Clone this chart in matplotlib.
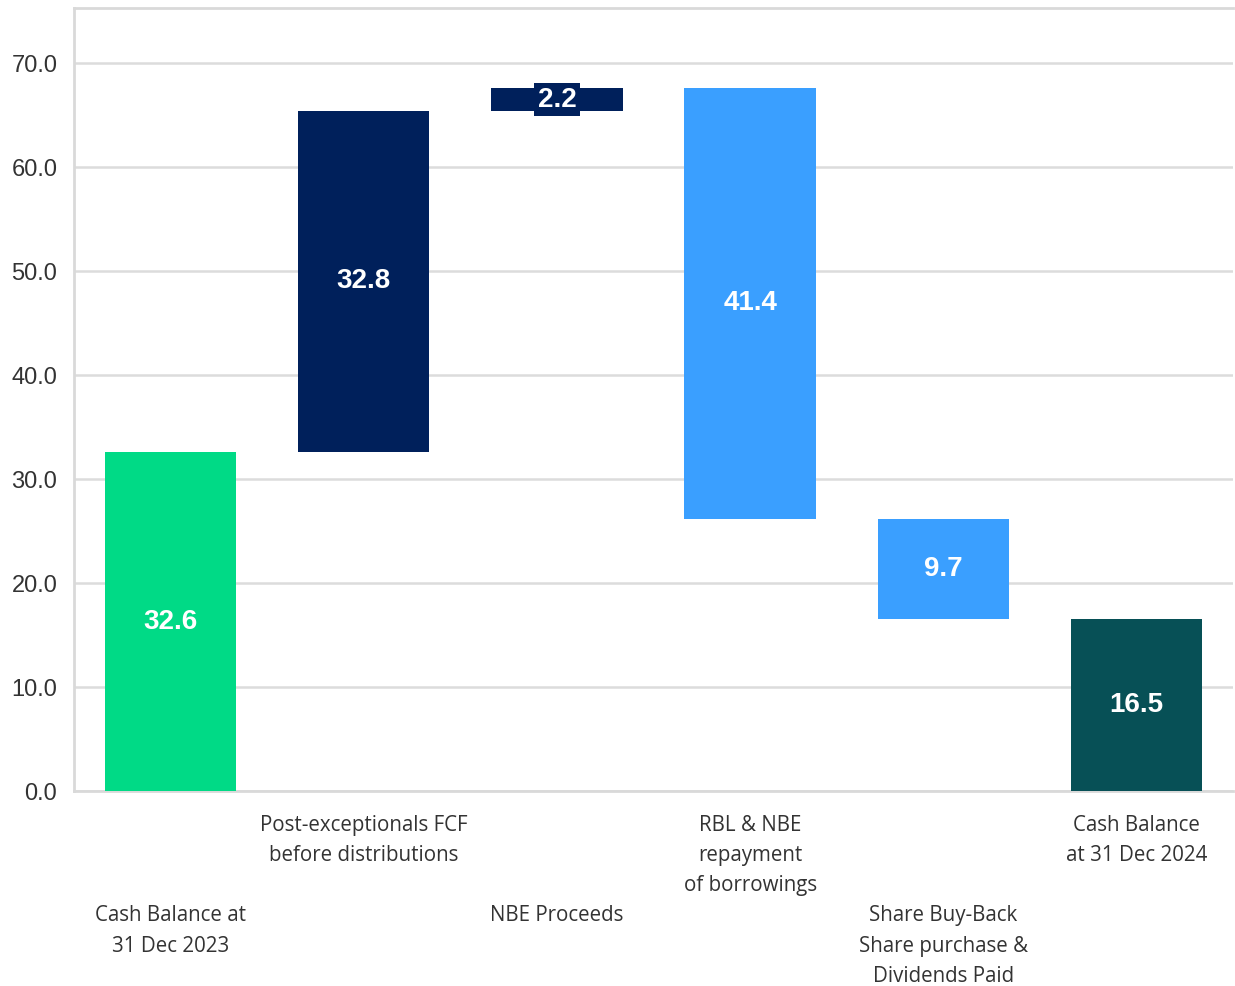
import matplotlib
matplotlib.use("Agg")
import matplotlib.pyplot as plt
import numpy as np

categories = [
    "Cash Balance at\n31 Dec 2023",
    "Post-exceptionals FCF\nbefore distributions",
    "NBE Proceeds",
    "RBL & NBE\nrepayment\nof borrowings",
    "Share Buy-Back\nShare purchase &\nDividends Paid",
    "Cash Balance\nat 31 Dec 2024",
]
changes = [32.6, 32.8, 2.2, -41.4, -9.7, 16.5]
kinds = ["total", "delta", "delta", "delta", "delta", "total"]
label_row = [2, 1, 2, 1, 2, 1]
yticks = [0, 10, 20, 30, 40, 50, 60, 70]

colors = ["#00DA86", "#00205B", "#00205B", "#3A9FFF", "#3A9FFF", "#075056"]

fig = plt.figure(figsize=(12.35, 9.86), dpi=100)
ax = fig.add_axes([74/1235, 1-791/986, (1233-74)/1235, (791-8)/986])

bottoms, heights = [], []
running = 0.0
for v, k in zip(changes, kinds):
    if k == "total":
        bottoms.append(0.0)
        heights.append(v)
        running = v
    else:
        if v >= 0:
            bottoms.append(running)
        else:
            bottoms.append(running + v)
        heights.append(abs(v))
        running += v

x = np.arange(len(categories))
ax.bar(x, heights, bottom=bottoms, width=0.68, color=colors, zorder=3)

for i, (b, h, v) in enumerate(zip(bottoms, heights, changes)):
    txt = f"{abs(v):.1f}"
    kw = {}
    if h < 4:
        kw["bbox"] = dict(boxstyle="square,pad=0.12", facecolor=colors[i], edgecolor="none")
    ax.text(i, b + h / 2, txt, ha="center", va="center", color="white",
            fontsize=20, fontweight="bold", family=["Liberation Sans", "DejaVu Sans"],
            zorder=4, **kw)

ax.set_xlim(-0.5, len(categories) - 0.5)
ax.set_ylim(0, 75.3)
ax.set_yticks(yticks)
ax.set_yticklabels([f"{t:.1f}" for t in yticks], fontsize=17, color="#333333",
                   family=["Liberation Sans", "DejaVu Sans"])
ax.yaxis.grid(True, color="#DCDCDC", linewidth=1.8, zorder=0)
ax.set_axisbelow(True)

labels = [("\n\n\n" + c) if r == 2 else c for c, r in zip(categories, label_row)]
ax.set_xticks(x)
ax.set_xticklabels(labels, fontsize=14.8, color="#333333", linespacing=1.58,
                   family=["Open Sans", "DejaVu Sans"])
ax.tick_params(axis="x", length=0, pad=17)
ax.tick_params(axis="y", length=0, pad=12)

for s in ["left", "top", "bottom"]:
    ax.spines[s].set_color("#D9D9D9")
    ax.spines[s].set_linewidth(2)
ax.spines["right"].set_visible(False)

fig.savefig("out.png", dpi=100, facecolor="white")
